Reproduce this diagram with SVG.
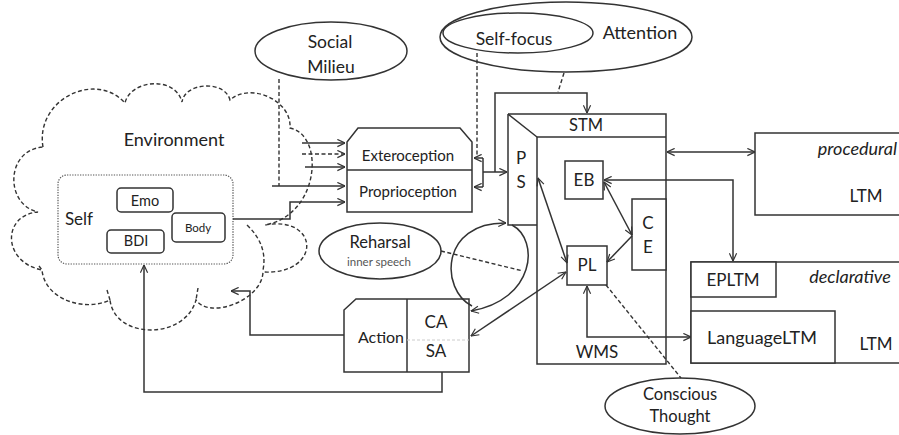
<svg xmlns="http://www.w3.org/2000/svg" width="899" height="435" viewBox="0 0 899 435">
<defs>
<marker id="a" viewBox="0 0 10 10" refX="9.5" refY="5" markerWidth="9" markerHeight="9" markerUnits="userSpaceOnUse" orient="auto-start-reverse"><path d="M1,1 L9.5,5 L1,9" fill="none" stroke="#333" stroke-width="1.3"/></marker>
<style>
.s{fill:none;stroke:#333;stroke-width:1.5}
.b{fill:#fff;stroke:#333;stroke-width:1.5}
.d{fill:none;stroke:#333;stroke-width:1.4;stroke-dasharray:4 2.5}
.t{font-family:Lato,"Open Sans",sans-serif;fill:#222;text-anchor:middle}
.i{font-style:italic}
</style>
</defs>
<rect width="899" height="435" fill="#fff"/>

<g id="environment">
<path class="d" d="M43,147 C35,100 95,70 125,103 C130,80 175,75 182,102 C185,82 225,80 230,100 C250,82 292,100 290,128 C325,135 320,215 265,225 C320,215 322,275 263,272 C262,300 210,320 196,300 C185,340 115,340 110,300 C85,312 45,300 42,270 C2,262 2,215 38,212 C5,205 5,150 43,147 Z"/>
<path class="d" d="M247,225 Q268,245 263,270 M107,290 L110,300 M198,288 L196,300 M39,266 L42,270"/>
<text class="t" x="174" y="146" font-size="18">Environment</text>
</g>

<g id="self">
<rect x="58" y="175" width="175" height="89" rx="9" fill="none" stroke="#555" stroke-width="1.2" stroke-dasharray="1.3 1.3"/>
<text class="t" x="79" y="225" font-size="17">Self</text>
</g>
<g id="emo"><rect class="b" x="117" y="188" width="56" height="24" rx="4"/><text class="t" x="145" y="206" font-size="14.5">Emo</text></g>
<g id="bdi"><rect class="b" x="107" y="230" width="57" height="23" rx="4"/><text class="t" x="136" y="246" font-size="14.5">BDI</text></g>
<g id="body"><rect class="b" x="172" y="213" width="53" height="29" rx="4"/><text class="t" x="198" y="232" font-size="11.5">Body</text></g>

<g id="social-milieu">
<ellipse class="b" cx="331" cy="51" rx="76" ry="29"/>
<text class="t" x="330" y="48" font-size="17.5">Social</text>
<text class="t" x="331" y="73" font-size="17.5">Milieu</text>
</g>

<g id="attention">
<ellipse class="b" cx="566" cy="37" rx="126" ry="35"/>
<text class="t" x="640" y="39" font-size="18">Attention</text>
</g>
<g id="self-focus">
<ellipse class="b" cx="518" cy="33" rx="75" ry="20"/>
<text class="t" x="514" y="45" font-size="17.5">Self-focus</text>
</g>

<g id="perception">
<path class="b" d="M358,128 H460 L472,142 V212 H347 V142 Z"/>
<path class="s" d="M347,170 H472"/>
<text class="t" x="408" y="161" font-size="15">Exteroception</text>
<text class="t" x="408" y="197" font-size="15">Proprioception</text>
</g>

<g id="stm">
<path class="b" d="M508,114 H666 V364 H537 V137 H666"/>
<path class="s" d="M508,114 V225 H537 M508,114 L537,137"/>
<text class="t" x="586" y="131" font-size="16.5">STM</text>
<text class="t" x="521" y="164" font-size="17">P</text>
<text class="t" x="521" y="188" font-size="17">S</text>
<text class="t" x="597" y="358" font-size="17">WMS</text>
</g>
<g id="eb"><rect class="b" x="565" y="161" width="38" height="38"/><text class="t" x="584" y="186" font-size="17">EB</text></g>
<g id="ce"><rect class="b" x="632" y="199" width="34" height="71"/><text class="t" x="648" y="229" font-size="17">C</text><text class="t" x="648" y="253" font-size="17">E</text></g>
<g id="pl"><rect class="b" x="567" y="246" width="40" height="39"/><text class="t" x="587" y="271" font-size="17">PL</text></g>

<g id="procedural-ltm">
<rect class="b" x="755" y="133" width="150" height="82"/>
<text class="t i" x="897" y="155" font-size="18" text-anchor="end" style="text-anchor:end">procedural</text>
<text class="t" x="866" y="202" font-size="17">LTM</text>
</g>
<g id="declarative-ltm">
<rect class="b" x="691" y="262" width="215" height="101"/>
<text class="t i" x="850" y="283" font-size="18">declarative</text>
<text class="t" x="876" y="350" font-size="17">LTM</text>
</g>
<g id="epltm"><rect class="b" x="691" y="262" width="85" height="35"/><text class="t" x="733" y="286" font-size="17">EPLTM</text></g>
<g id="language-ltm"><rect class="b" x="691" y="311" width="144" height="52"/><text class="t" x="762" y="344" font-size="18">LanguageLTM</text></g>

<g id="reharsal">
<ellipse class="b" cx="380" cy="251" rx="61" ry="28"/>
<text class="t" x="380" y="248" font-size="16.5">Reharsal</text>
<text class="t" x="379" y="266" font-size="11.5" style="fill:#555">inner speech</text>
</g>

<g id="action">
<path class="b" d="M356,299 H469 V372 H344 V310 Z"/>
<path class="s" d="M407,299 V372"/>
<path d="M407,340 H469" fill="none" stroke="#ccc" stroke-width="1" stroke-dasharray="3 2"/>
<text class="t" x="381" y="343" font-size="16">Action</text>
<text class="t" x="436" y="328" font-size="17">CA</text>
<text class="t" x="436" y="357" font-size="17">SA</text>
</g>

<g id="conscious-thought">
<ellipse class="b" cx="680" cy="406" rx="75" ry="28"/>
<text class="t" x="680" y="400" font-size="16.5">Conscious</text>
<text class="t" x="680" y="422" font-size="16.5">Thought</text>
</g>

<g id="connectors">
<path class="s" d="M233,219 H290 V202 H345" marker-end="url(#a)"/>
<path class="s" d="M302,143 H345" marker-end="url(#a)"/>
<path class="d" d="M302,154 H345" marker-end="url(#a)"/>
<path class="s" d="M305,167 H345" marker-end="url(#a)"/>
<path class="s" d="M272,186 H345" marker-end="url(#a)"/>
<path class="d" d="M279,79 V186"/>
<path class="d" d="M477,53 V157"/>
<path class="s" d="M483,158 H474" marker-end="url(#a)"/>
<path class="s" d="M483,187 H474" marker-end="url(#a)"/>
<path class="s" d="M483,158 V187"/>
<path class="s" d="M483,172 H507" marker-end="url(#a)"/>
<path class="s" d="M495,172 V93 H587 V113" marker-end="url(#a)"/>
<path class="d" d="M564,73 L558,92"/>
<path class="s" d="M538,178 L567,263" marker-start="url(#a)" marker-end="url(#a)"/>
<path class="s" d="M604,182 L632,235" marker-start="url(#a)" marker-end="url(#a)"/>
<path class="s" d="M632,236 L607,262" marker-end="url(#a)"/>
<path class="s" d="M604,180 H733 V261" marker-start="url(#a)" marker-end="url(#a)"/>
<path class="s" d="M667,152 H755" marker-start="url(#a)" marker-end="url(#a)"/>
<path class="s" d="M587,286 V337 H691" marker-start="url(#a)" marker-end="url(#a)"/>
<path class="d" d="M606,285 L681,378"/>
<path class="s" d="M566,272 L471,336" marker-start="url(#a)" marker-end="url(#a)"/>
<path class="s" d="M472,306 C440,290 440,222 506,223" marker-end="url(#a)"/>
<path class="s" d="M512,225 C540,240 535,300 471,311" marker-end="url(#a)"/>
<path class="d" d="M441,251 L523,271"/>
<path class="s" d="M344,335 H250 V291 H231" marker-end="url(#a)"/>
<path class="s" d="M442,372 V392 H144 V265" marker-end="url(#a)"/>
</g>
</svg>
